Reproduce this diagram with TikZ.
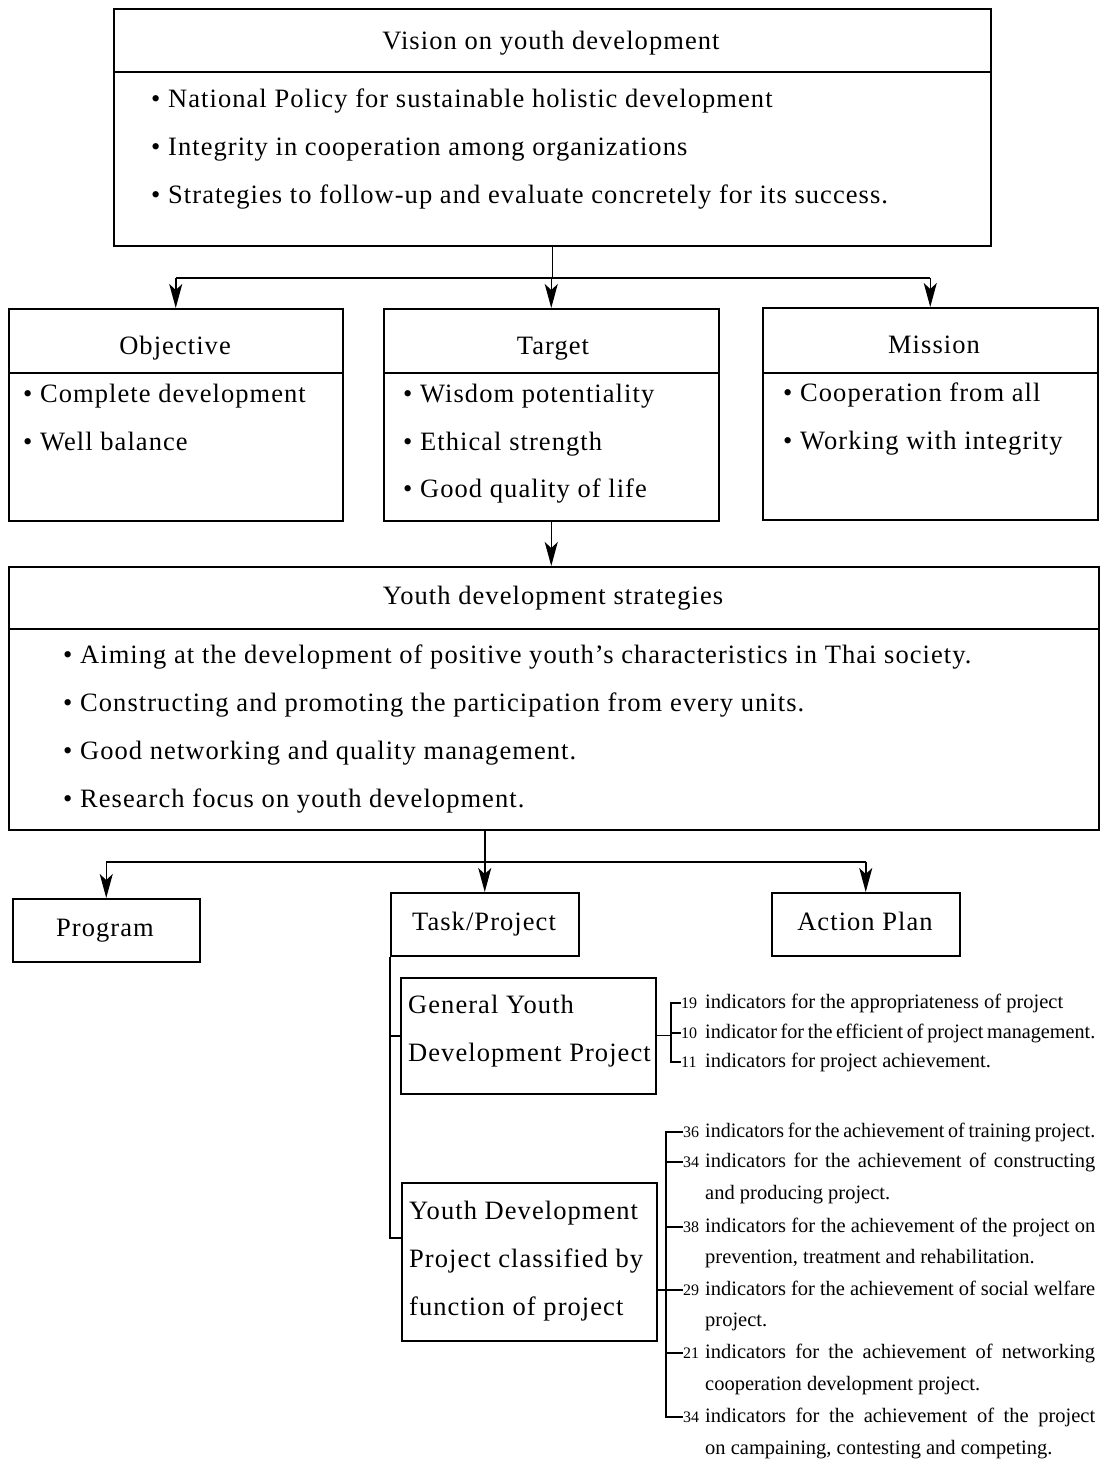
\documentclass[tikz,border=0pt]{standalone}
\usepackage{fontspec}
\setmainfont{Liberation Serif}
\newfontfamily\bigf[LetterSpace=4]{Liberation Serif}
\usetikzlibrary{arrows.meta}
\begin{document}
\begin{tikzpicture}[x=1pt,y=-1pt,
  box/.style={draw, line width=1.5pt, inner sep=0pt, anchor=north west},
  big/.style={font=\bigf\fontsize{26.5}{32}\selectfont, inner sep=0pt, anchor=base},
  bul/.style={font=\bigf\fontsize{26.5}{32}\selectfont, inner sep=0pt, anchor=base west},
  ind/.style={font=\fontsize{20.5}{24}\selectfont, inner sep=0pt, anchor=base west},
  num/.style={font=\fontsize{16}{19}\selectfont, inner sep=0pt, anchor=west},
  conn/.style={line width=1.5pt},
  arr/.style={conn, -{Stealth[length=24pt,width=13pt,inset=6pt]}},
  bl/.style={line width=1.2pt}]
\useasboundingbox (0,0) rectangle (1106,1460);

% boxes
\node[box, minimum width=877pt, minimum height=237pt] (vision) at (113,8) {};
\node[box, minimum width=334pt, minimum height=212pt] (obj) at (8,308) {};
\node[box, minimum width=335pt, minimum height=212pt] (tar) at (383,308) {};
\node[box, minimum width=335pt, minimum height=212pt] (mis) at (762,307) {};
\node[box, minimum width=1090pt, minimum height=263pt] (strat) at (8,566) {};
\node[box, minimum width=187pt, minimum height=63pt] (prog) at (12,898) {};
\node[box, minimum width=188pt, minimum height=63pt] (task) at (390,892) {};
\node[box, minimum width=188pt, minimum height=63pt] (act) at (771,892) {};
\node[box, minimum width=255pt, minimum height=116pt] (gen) at (400,977) {};
\node[box, minimum width=255pt, minimum height=158pt] (yd) at (401,1182) {};

% separators
\coordinate (s1) at (0,72);
\coordinate (s2) at (0,373);
\coordinate (s3) at (0,629);
\draw[conn] (vision.west |- s1) -- (vision.east |- s1);
\draw[conn] (obj.west |- s2) -- (obj.east |- s2);
\draw[conn] (tar.west |- s2) -- (tar.east |- s2);
\draw[conn] (mis.west |- s2) -- (mis.east |- s2);
\draw[conn] (strat.west |- s3) -- (strat.east |- s3);

% vision texts
\node[big] (vt) at (551,49) {Vision on youth development};
\node[bul] (v1) at (151,107) {\textbullet\ National Policy for sustainable holistic development};
\node[bul] (v2) at (151,155) {\textbullet\ Integrity in cooperation among organizations};
\node[bul] (v3) at (151,203) {\textbullet\ Strategies to follow-up and evaluate concretely for its success.};

% objective / target / mission
\node[big] (ot) at (175,354) {Objective};
\node[bul] (o1) at (23,402) {\textbullet\ Complete development};
\node[bul] (o2) at (23,450) {\textbullet\ Well balance};
\node[big] (tt) at (553,354) {Target};
\node[bul] (t1) at (403,402) {\textbullet\ Wisdom potentiality};
\node[bul] (t2) at (403,450) {\textbullet\ Ethical strength};
\node[bul] (t3) at (403,497) {\textbullet\ Good quality of life};
\node[big] (mt) at (934,353) {Mission};
\node[bul] (m1) at (783,401) {\textbullet\ Cooperation from all};
\node[bul] (m2) at (783,449) {\textbullet\ Working with integrity};

% strategies
\node[big] (st) at (553,604) {Youth development strategies};
\node[bul] (st1) at (63,663) {\textbullet\ Aiming at the development of positive youth’s characteristics in Thai society.};
\node[bul] (st2) at (63,711) {\textbullet\ Constructing and promoting the participation from every units.};
\node[bul] (st3) at (63,759) {\textbullet\ Good networking and quality management.};
\node[bul] (st4) at (63,807) {\textbullet\ Research focus on youth development.};

% lower boxes text
\node[big] (pt) at (105,936) {Program};
\node[big] (tkt) at (484,930) {Task/Project};
\node[big] (at) at (865,930) {Action Plan};
\node[bul] (g1) at (408,1013) {General Youth};
\node[bul] (g2) at (408,1061) {Development Project};
\node[bul] (y1) at (409,1219) {Youth Development};
\node[bul] (y2) at (409,1267) {Project classified by};
\node[bul] (y3) at (409,1315) {function of project};

% connectors top
\coordinate (j1) at (0,278);
\draw[conn] (vision.south) -- (vision.south |- j1);
\draw[conn] (obj.north |- j1) -- (mis.north |- j1);
\draw[arr] (obj.north |- j1) -- (obj.north);
\draw[arr] (tar.north |- j1) -- (tar.north);
\draw[arr] (mis.north |- j1) -- (mis.north);
\draw[arr] (tar.south) -- (tar.south |- strat.north);

\coordinate (j2) at (0,862);
\draw[arr] (task.north |- strat.south) -- (task.north);
\draw[conn] (prog.north |- j2) -- (act.north |- j2);
\draw[arr] (prog.north |- j2) -- (prog.north);
\draw[arr] (act.north |- j2) -- (act.north);

\coordinate (j3) at (0,1238);
\draw[conn] (task.south west) -- (task.south west |- j3) -- (yd.west |- j3);
\draw[conn] (task.south west |- gen.west) -- (gen.west);

% general indicators
\node[num] (gn1) at (681,1003) {19};
\node[ind] (gi1) at (705,1008) {indicators for the appropriateness of project};
\node[num] (gn2) at (681,1033) {10};
\node[ind] (gi2) at (705,1038) {\scalebox{0.985}[1]{\makebox[396pt][s]{indicator for the efficient of project management.}}};
\node[num] (gn3) at (681,1062) {11};
\node[ind] (gi3) at (705,1067) {indicators for project achievement.};
\coordinate (gx) at (671,0);
\draw[bl] (gen.east) -- (gx |- gen.east);
\draw[bl] (gn1.west) -- (gx |- gn1.west) -- (gx |- gn3.west) -- (gn3.west);
\draw[bl] (gx |- gn2.west) -- (gn2.west);

% function indicators
\node[num] (fn1) at (683,1132) {36};
\node[ind] (fi1) at (705,1137) {\scalebox{0.975}[1]{\makebox[400pt][s]{indicators for the achievement of training project.}}};
\node[num] (fn2) at (683,1162) {34};
\node[ind] (fi2) at (705,1167) {\makebox[390pt][s]{indicators for the achievement of constructing}};
\node[ind] (fi2b) at (705,1199) {and producing project.};
\node[num] (fn3) at (683,1227) {38};
\node[ind] (fi3) at (705,1232) {\makebox[390pt][s]{indicators for the achievement of the project on}};
\node[ind] (fi3b) at (705,1263) {prevention, treatment and rehabilitation.};
\node[num] (fn4) at (683,1290) {29};
\node[ind] (fi4) at (705,1295) {\makebox[390pt][s]{indicators for the achievement of social welfare}};
\node[ind] (fi4b) at (705,1326) {project.};
\node[num] (fn5) at (683,1353) {21};
\node[ind] (fi5) at (705,1358) {\makebox[390pt][s]{indicators for the achievement of networking}};
\node[ind] (fi5b) at (705,1390) {cooperation development project.};
\node[num] (fn6) at (683,1417) {34};
\node[ind] (fi6) at (705,1422) {\makebox[390pt][s]{indicators for the achievement of the project}};
\node[ind] (fi6b) at (705,1454) {on campaining, contesting and competing.};
\coordinate (fx) at (666,0);
\draw[bl] (yd.east |- fn4.west) -- (fx |- fn4.west);
\draw[bl] (fn1.west) -- (fx |- fn1.west) -- (fx |- fn6.west) -- (fn6.west);
\draw[bl] (fx |- fn2.west) -- (fn2.west);
\draw[bl] (fx |- fn3.west) -- (fn3.west);
\draw[bl] (fx |- fn4.west) -- (fn4.west);
\draw[bl] (fx |- fn5.west) -- (fn5.west);
\end{tikzpicture}
\end{document}
